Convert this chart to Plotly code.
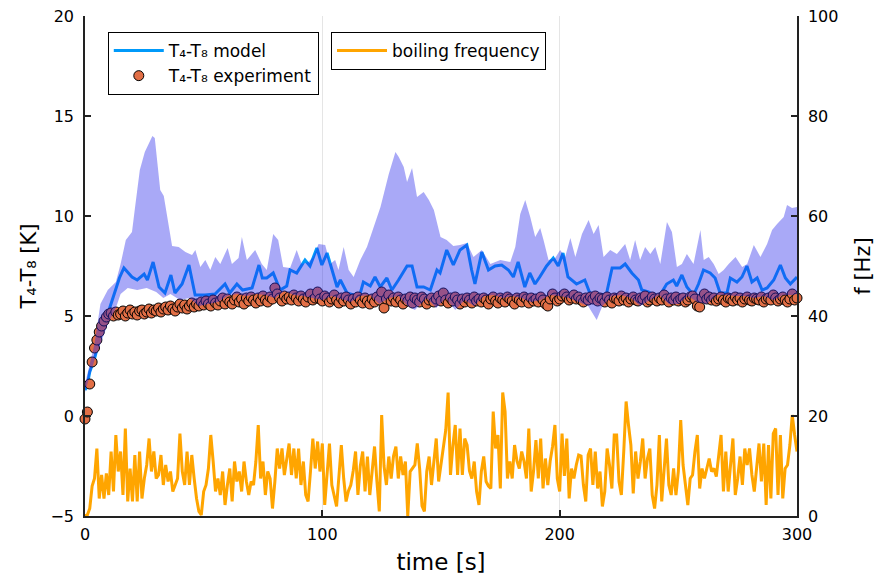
import plotly.graph_objects as go

# ---------------- data ----------------
# experimental temperature difference T4-T8 [K], one sample per second
exp_t = list(range(0, 301))
exp_dT = [
    -0.15, 0.2, 1.6, 2.7, 3.4, 3.8, 4.2, 4.5, 4.75, 4.95, 5.1,
    5.15, 5.0, 5.2, 5.05, 5.1, 5.25, 5.0, 5.15, 5.3, 5.1,
    5.2, 5.05, 5.25, 5.3, 5.1, 5.2, 5.35, 5.15, 5.3, 5.25,
    5.4, 5.2, 5.35, 5.45, 5.3, 5.5, 5.35, 5.25, 5.45, 5.6,
    5.4, 5.55, 5.35, 5.5, 5.65, 5.45, 5.6, 5.5, 5.7, 5.55,
    5.75, 5.6, 5.5, 5.8, 5.65, 5.55, 5.75, 5.9, 5.6, 5.85,
    5.7, 5.6, 5.8, 5.95, 5.7, 5.85, 5.6, 5.9, 5.75, 5.95,
    5.8, 5.65, 5.9, 5.75, 6.0, 5.8, 5.7, 5.95, 5.85, 6.4,
    6.1, 5.9, 5.75, 6.0, 5.85, 5.95, 5.8, 6.05, 5.9, 5.75,
    6.0, 5.85, 5.7, 5.95, 6.1, 5.8, 5.9, 6.2, 5.85, 5.75,
    6.0, 5.9, 5.7, 5.85, 6.05, 5.8, 5.65, 5.9, 5.75, 5.95,
    5.8, 5.6, 5.85, 5.7, 5.95, 5.8, 5.65, 5.9, 5.75, 5.6,
    5.85, 5.7, 5.95, 5.8, 6.2, 5.4, 5.85, 6.05, 5.75, 5.9,
    5.7, 5.95, 5.8, 5.6, 5.85, 5.75, 5.95, 5.65, 5.9, 5.8,
    5.7, 5.95, 5.85, 5.6, 5.8, 5.9, 5.7, 5.85, 6.0, 5.75,
    6.15, 5.8, 5.65, 5.9, 5.75, 5.95, 5.8, 5.6, 5.85, 5.7,
    5.9, 5.8, 5.65, 5.95, 5.75, 5.85, 5.7, 5.9, 5.8, 5.6,
    5.85, 5.95, 5.75, 5.65, 5.9, 5.8, 5.7, 5.95, 5.85, 5.75,
    5.6, 5.9, 5.8, 5.7, 5.95, 5.85, 5.65, 5.9, 5.75, 5.85,
    5.7, 5.95, 5.8, 5.6, 5.5, 5.85, 6.1, 5.9, 5.75, 5.85,
    6.0, 6.1, 5.95, 5.8, 5.9, 6.05, 5.85, 5.95, 5.8, 5.7,
    5.9, 5.8, 5.95, 5.85, 6.0, 5.75, 5.9, 5.85, 5.7, 5.95,
    5.8, 5.65, 5.9, 5.85, 5.75, 6.0, 5.8, 5.9, 5.7, 5.85,
    5.95, 5.8, 5.75, 5.9, 5.85, 6.0, 5.7, 5.8, 5.95, 5.85,
    5.75, 5.9, 5.8, 6.05, 5.85, 5.7, 5.9, 5.8, 5.95, 5.75,
    5.85, 5.9, 5.7, 5.8, 5.95, 6.0, 5.85, 5.5, 5.45, 5.9,
    6.1, 5.85, 5.95, 5.8, 5.9, 5.75, 5.85, 5.95, 5.8, 5.7,
    5.9, 5.85, 5.75, 5.95, 5.8, 5.9, 5.7, 5.85, 5.95, 5.8,
    5.75, 5.9, 5.85, 5.8, 5.95, 5.7, 5.85, 5.9, 5.8, 6.05,
    5.9, 5.75, 5.85, 5.95, 5.8, 5.7, 5.85, 6.1, 5.8, 5.9,
]

# model prediction of T4-T8 [K]
model_t = [0, 0.8, 2, 4.2, 6, 8.4, 10.5, 12.6, 14.5, 16.4, 19.8, 22, 24.9, 26.3,
           28.7, 31.2, 33.7, 36.2, 37.9, 40.9, 43.8, 46.4, 50.6, 54.8, 59, 61,
           64, 66.4, 70.4, 73.3, 74.7, 76.6, 79.3, 82.2, 85, 86.4, 89.2, 92.7,
           94.8, 97.7, 99.8, 102, 104.1, 106.2, 107.6, 110.4, 113.2, 115.9,
           117.3, 120.2, 122.2, 124.4, 127.2, 129.3, 132.1, 135.7, 137.8,
           139.9, 142.7, 145.5, 148.3, 149.6, 152.4, 155.2, 158, 160.9, 162.9,
           164.3, 167.2, 170, 172.8, 175.6, 178.4, 180.5, 182.5, 185.3, 187.4,
           189.6, 191.6, 194.5, 197.3, 199.4, 201.4, 203.5, 207.1, 210.6,
           212.7, 216.2, 219.7, 222.1, 225.5, 227.6, 230.4, 233.2, 234.6,
           237.4, 239.5, 242.3, 245.1, 247.9, 249.3, 251.5, 253.6, 256.4,
           258.5, 260.6, 263.4, 265.5, 267.6, 270.5, 271.9, 274.7, 276.8,
           278.9, 281, 283.2, 285.3, 287.4, 290.2, 293, 295.1, 297.2, 300]
model_dT = [1.3, 1.45, 2.2, 2.95, 3.8, 4.65, 5.5, 6.15, 6.9, 7.4, 6.95, 6.8, 7.1,
            6.8, 7.7, 6.45, 6.15, 7.05, 6.15, 6.6, 7.55, 6.05, 6.05, 6.1, 6.6,
            6.15, 6.6, 6.3, 6.4, 7.55, 6.9, 6.9, 7.15, 6.3, 6.5, 7.3, 7.15,
            7.8, 7.5, 8.4, 7.55, 8.15, 7.3, 6.45, 6.8, 6.15, 6.05, 6.1, 6.7,
            6.5, 6.95, 6.45, 6.9, 6.3, 6.8, 7.5, 7.5, 6.45, 6.45, 6.3, 7.3,
            7.15, 8.3, 7.55, 8.3, 8.55, 7.3, 6.6, 8.2, 7.3, 7.5, 7.55, 7.3,
            6.95, 7.7, 6.45, 7.15, 6.6, 6.95, 7.5, 7.9, 7.5, 8.15, 6.95, 6.6,
            6.8, 6.15, 6.05, 6.1, 7.4, 7.4, 7.6, 7.15, 6.8, 6.3, 6.2, 6.05,
            6.05, 6.6, 6.8, 6.5, 7.05, 6.45, 6.05, 6.6, 7.3, 7.15, 6.9, 6.15,
            6.15, 6.9, 6.7, 6.95, 7.5, 6.7, 6.9, 6.3, 6.4, 6.8, 7.55, 6.9,
            6.6, 6.95]

# model uncertainty band: upper and lower envelopes [K]
band_hi_t = [0, 2, 4, 6.5, 9.6, 13, 15, 17.2, 19.8, 21, 23.1, 25.2, 27.3, 28.4,
             29.4, 30.3, 31.7, 33.2, 35.3, 36.7, 39.5, 42.3, 45.1, 46.5, 48.6,
             50.7, 52.8, 54.9, 57, 60.1, 61.9, 64.7, 66.1, 68.2, 71.7, 74.5,
             76.6, 79.3, 81.4, 83.5, 86.4, 89.2, 91.3, 94.1, 96.2, 98.4, 101.2,
             103.3, 105.4, 106.8, 109, 111.1, 113.2, 116, 118.8, 121.6, 124.5,
             128, 130.8, 132.2, 134.3, 135.7, 137.8, 139.9, 142.7, 144.9, 147,
             149.8, 152.4, 155.2, 158, 160.9, 163.7, 167.2, 170.8, 175, 179.2,
             181.3, 183.4, 185.5, 187.6, 189.7, 191.8, 193.2, 195.3, 198.1,
             200.2, 202.3, 204.5, 206.6, 209.4, 212.2, 214.3, 216.4, 218.5,
             221.3, 224.1, 227.6, 229.7, 231.8, 233.9, 236, 238.2, 240.3, 242.4,
             245.2, 247.3, 249.4, 251.5, 253.6, 256.4, 259.3, 260.7, 262.8,
             264.9, 267, 269.1, 271.2, 274.1, 276.9, 279, 281.8, 284.6, 287.4,
             289.5, 291.6, 294.4, 295.8, 297.9, 300]
band_hi = [1.6, 2.6, 3.6, 5.6, 6.3, 6.7, 7.6, 8.8, 9.2, 10.35, 12.3, 13.2, 13.7,
           14.0, 13.9, 13.0, 11.3, 11.0, 9.45, 8.5, 8.45, 8.2, 8.05, 8.3, 7.45,
           7.8, 7.3, 7.95, 7.6, 8.4, 7.6, 7.9, 8.95, 7.8, 8.3, 7.6, 7.3, 9.1,
           8.8, 7.45, 7.4, 8.3, 7.6, 7.7, 7.95, 8.6, 8.55, 7.6, 7.8, 7.3, 8.45,
           7.3, 6.95, 7.8, 8.45, 9.45, 10.45, 12.1, 13.2, 12.95, 12.45, 11.7,
           12.4, 10.95, 11.2, 10.8, 10.3, 8.95, 8.8, 8.5, 8.55, 8.65, 7.95, 8.3,
           7.6, 7.8, 7.7, 8.45, 10.1, 10.8, 9.95, 8.95, 9.4, 8.8, 7.8, 7.9, 8.3,
           7.95, 8.9, 7.95, 9.1, 9.8, 9.1, 9.55, 7.95, 8.3, 8.1, 8.6, 7.8, 8.8,
           7.8, 8.45, 8.1, 8.45, 7.6, 9.7, 9.2, 7.45, 7.6, 8.1, 7.6, 9.3, 7.8,
           7.95, 7.6, 7.1, 7.3, 7.6, 7.95, 7.45, 7.6, 8.55, 7.95, 8.6, 9.3, 9.6,
           9.95, 10.55, 10.4, 10.45]
band_lo_t = [0, 2, 4, 6.5, 9.6, 13, 15, 18, 22, 26, 30, 33, 36, 40, 44, 48, 52,
             56, 60, 64, 68, 72, 76, 80, 84, 88, 92, 96, 100, 104, 108, 112, 116,
             120, 124, 128, 132, 136, 139, 144, 148, 152, 156, 160, 164, 168,
             172, 176, 180, 184, 188, 192, 196, 200, 204, 208, 212, 215.6, 218,
             222, 226, 230, 234, 238, 242, 246, 250, 254, 258, 262, 266, 270,
             274, 278, 282, 286, 290, 294, 298, 300]
band_lo = [1.2, 2.0, 2.8, 3.6, 4.6, 5.4, 6.1, 6.4, 6.3, 6.4, 6.2, 5.9, 6.1, 5.8,
           5.9, 5.5, 5.6, 5.7, 6.0, 6.1, 6.0, 6.1, 6.05, 5.9, 6.25, 6.05, 6.0,
           5.9, 5.8, 6.0, 5.85, 5.7, 6.0, 6.05, 5.6, 5.9, 6.0, 5.5, 5.3, 5.9,
           5.4, 5.9, 5.3, 5.8, 5.5, 6.0, 6.05, 5.9, 6.0, 5.9, 5.7, 5.8, 6.05,
           6.0, 5.9, 5.7, 5.5, 4.8, 5.5, 6.0, 6.05, 5.9, 5.5, 5.8, 6.05, 5.6,
           5.6, 6.0, 5.7, 5.6, 6.05, 6.05, 6.0, 6.0, 5.9, 6.0, 5.8, 6.05, 6.05,
           6.1]

# boiling frequency [Hz], one sample per second
freq_t = list(range(0, 301))
freq_hz = [
    0.0, 0.2, 1.5, 6.0, 7.5, 13.5, 3.5, 8.2, 3.5, 8.5, 4.2,
    12.9, 4.9, 16.2, 8.9, 12.9, 4.2, 17.5, 2.9, 9.5, 2.9,
    12.2, 2.9, 12.9, 3.5, 7.5, 10.2, 15.5, 8.9, 12.9, 7.5,
    8.2, 12.2, 6.2, 10.2, 6.9, 8.9, 4.9, 6.2, 7.5, 16.5,
    8.9, 6.2, 12.9, 6.2, 12.2, 7.5, 3.5, 0.9, 0.2, 4.9,
    6.2, 9.5, 16.2, 10.9, 4.9, 7.5, 4.2, 8.9, 2.2, 6.2,
    9.5, 2.9, 10.9, 6.9, 8.9, 4.9, 10.9, 6.9, 4.2, 6.9,
    6.2, 10.9, 18.2, 7.5, 10.9, 4.2, 8.9, 7.5, 1.5, 6.9,
    13.5, 9.5, 13.5, 8.2, 11.5, 14.5, 8.2, 13.5, 7.5, 13.5,
    6.2, 10.9, 4.2, 2.9, 8.9, 15.5, 9.5, 14.9, 8.9, 14.5,
    2.2, 8.0, 14.5, 6.2, 4.0, 1.9, 8.0, 14.2, 7.5, 2.9,
    5.0, 6.2, 9.0, 12.9, 4.2, 10.0, 12.9, 4.9, 11.9, 4.2,
    9.0, 13.9, 6.9, 0.9, 20.2, 10.0, 6.2, 11.9, 7.5, 12.0,
    13.9, 7.5, 11.9, 8.2, 10.9, 0.0, 8.9, 9.5, 10.2, 14.5,
    9.5, 2.0, 0.9, 8.9, 11.9, 6.2, 11.5, 15.5, 6.9, 10.0,
    13.2, 17.2, 24.7, 8.2, 14.0, 18.2, 8.2, 17.5, 8.2, 15.5,
    14.2, 9.0, 7.5, 10.9, 4.9, 2.2, 8.9, 11.9, 6.9, 6.0,
    5.5, 20.9, 13.5, 16.2, 5.5, 24.7, 20.9, 7.5, 10.9, 7.5,
    14.2, 11.0, 9.5, 12.9, 10.9, 7.5, 17.5, 4.9, 9.0, 15.2,
    7.5, 15.5, 5.5, 11.5, 6.2, 11.0, 13.9, 18.2, 7.5, 4.9,
    16.5, 8.0, 15.5, 3.5, 9.5, 7.5, 10.2, 12.2, 12.0, 6.2,
    2.9, 12.2, 13.5, 6.2, 12.9, 5.5, 8.9, 1.9, 4.9, 13.5,
    10.2, 5.5, 16.2, 16.2, 6.9, 4.2, 12.9, 22.9, 18.2, 14.2,
    4.5, 12.9, 7.5, 10.9, 15.5, 7.5, 11.5, 13.5, 4.2, 1.5,
    6.2, 16.2, 2.9, 9.5, 15.5, 6.2, 4.2, 9.5, 4.2, 8.9,
    19.2, 10.2, 5.5, 2.2, 7.5, 8.2, 12.9, 16.2, 5.5, 9.5,
    7.5, 9.5, 11.5, 8.9, 9.5, 7.9, 11.5, 16.2, 4.9, 12.9,
    4.9, 10.2, 15.5, 4.2, 7.5, 11.9, 6.2, 13.5, 10.2, 13.5,
    8.2, 4.9, 9.5, 14.5, 6.9, 14.5, 2.2, 14.2, 3.5, 16.5,
    17.5, 4.2, 16.2, 3.5, 9.5, 10.2, 14.2, 20.2, 16.2, 12.9,
    4.9,
]

# ---------------- styling ----------------
FONT = "DejaVu Sans"
C_MODEL = "#009AFA"
C_EXP = "#E26F46"
C_BAND = "rgba(40,40,235,0.40)"
C_FREQ = "#FFA500"

fig = go.Figure()

fig.add_trace(go.Scatter(
    x=model_t, y=model_dT, mode="lines", name="T₄-T₈ model",
    line=dict(color=C_MODEL, width=3), legend="legend",
))
fig.add_trace(go.Scatter(
    x=exp_t, y=exp_dT, mode="markers", name="T₄-T₈ experiment",
    marker=dict(color=C_EXP, size=10, line=dict(color="black", width=1)),
    cliponaxis=False, legend="legend",
))
# shaded band drawn over the line and the points
fig.add_trace(go.Scatter(
    x=band_hi_t + band_lo_t[::-1], y=band_hi + band_lo[::-1],
    mode="lines", fill="toself", fillcolor=C_BAND,
    line=dict(width=0, color="rgba(0,0,0,0)"), hoverinfo="skip",
    showlegend=False,
))
fig.add_trace(go.Scatter(
    x=freq_t, y=freq_hz, mode="lines", name="boiling frequency",
    line=dict(color=C_FREQ, width=3), yaxis="y2", legend="legend2",
))

axis_common = dict(
    showline=True, linecolor="#222", linewidth=1.5,
    ticks="inside", ticklen=6, tickcolor="#222", tickwidth=1.5,
    tickfont=dict(family=FONT, size=16, color="black"),
    zeroline=False, automargin=False,
)

fig.update_layout(
    width=881, height=575,
    margin=dict(l=85, r=84, t=16, b=59),
    paper_bgcolor="white", plot_bgcolor="white",
    font=dict(family=FONT, color="black"),
    xaxis=dict(
        range=[0, 300], tickvals=[0, 100, 200, 300],
        showgrid=True, gridcolor="rgba(0,0,0,0.10)", gridwidth=1,
        title=dict(text="time [s]", font=dict(family=FONT, size=23), standoff=12),
        ticklabelstandoff=3,
        **axis_common,
    ),
    yaxis=dict(
        range=[-5, 20], tickvals=[-5, 0, 5, 10, 15, 20], showgrid=False,
        title=dict(text="T₄-T₈ [K]", font=dict(family=FONT, size=21), standoff=8),
        ticklabelstandoff=6,
        **axis_common,
    ),
    yaxis2=dict(
        range=[0, 100], tickvals=[0, 20, 40, 60, 80, 100], showgrid=False,
        overlaying="y", side="right",
        title=dict(text="f [Hz]", font=dict(family=FONT, size=21), standoff=18),
        ticklabelstandoff=6,
        **axis_common,
    ),
    legend=dict(
        x=0.032, y=0.968, xanchor="left", yanchor="top",
        bordercolor="black", borderwidth=1, bgcolor="white",
        font=dict(family=FONT, size=17), itemwidth=50, tracegroupgap=0,
    ),
    legend2=dict(
        x=0.3455, y=0.968, xanchor="left", yanchor="top",
        bordercolor="black", borderwidth=1, bgcolor="white",
        font=dict(family=FONT, size=17), itemwidth=50,
    ),
    showlegend=True,
)

fig.write_html("out.html")
